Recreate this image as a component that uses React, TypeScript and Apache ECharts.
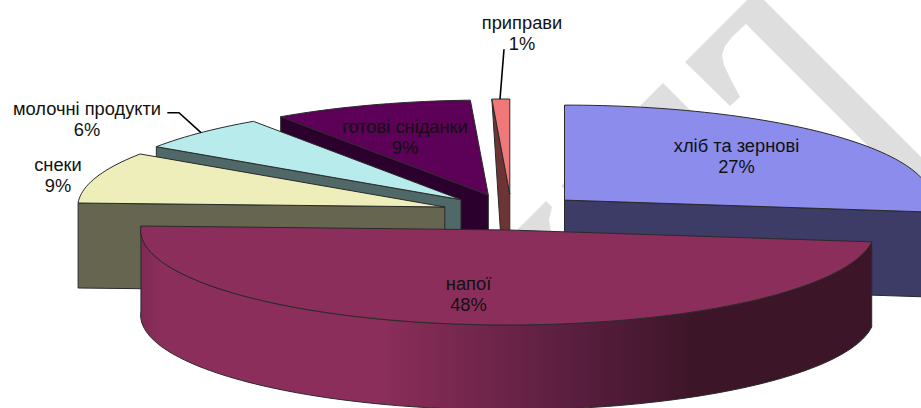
import React, { useEffect, useRef } from "react";
import * as echarts from "echarts";

// Share of each product group, in percent, clockwise from twelve o'clock.
const categories = ["хліб та зернові", "напої", "снеки", "молочні продукти", "готові сніданки", "приправи"];
const shares = [27, 48, 9, 6, 9, 1];

// Surface colours per slice.
const topColors = ["#8c8cec", "#8c2e5c", "#eeeebb", "#b8ecec", "#5c0058", "#f07878"];
const wallColors = ["#3c3c66", "#8c2e5c", "#666650", "#506868", "#2c002c", "#6c3434"];

// Back-to-front painting order of the exploded slices.
const paintOrder = [5, 4, 3, 2, 0, 1];

// Label text centres, one per category.
const labelCentres: [number, number][] = [
  [736.5, 156.3],
  [468.5, 294.3],
  [58, 175.3],
  [87, 118.5],
  [405, 137.3],
  [522, 33],
];

// Leader lines for the labels that sit outside their slices.
const leaders: [number, number][][] = [
  [[167.3, 112.7], [179, 112.7], [201, 132.7]],
  [[504, 49.3], [500, 99]],
];

// Diagonal grey background lettering.
const backdropShapes: [number, number][][] = [
  [
    [747, 0], [764, 0], [921, 157], [921, 215], [867, 215], [867, 145], [746, 24],
    [733, 36], [725, 46], [722, 55], [724, 65], [730, 78], [740, 97], [730, 106], [685, 62],
  ],
  [[663, 83], [705, 125], [610, 136]],
  [[546, 201], [552, 207], [549, 220], [551, 232], [515, 232]],
  [[561, 186], [564, 183], [566, 190]],
];

const BASE_X = 512;
const BASE_Y = 212;
const EXPLODE_X = 70;
const EXPLODE_Y = 18;
const RADIUS_X = 367;
const RADIUS_Y = 95;
const DEPTH = 85;

// Perspective correction: how far the camera turns the rim at a given pie angle.
const warpAngles = [180, 270, 302.4, 324, 356.4, 360];
const warpShifts = [0, 2.4, 1.5, 1.55, 0.8, 0];

function viewAngle(deg: number) {
  for (let k = 1; k < warpAngles.length; k++) {
    if (deg <= warpAngles[k] && deg >= warpAngles[k - 1]) {
      const t = (deg - warpAngles[k - 1]) / (warpAngles[k] - warpAngles[k - 1]);
      return deg + warpShifts[k - 1] + (warpShifts[k] - warpShifts[k - 1]) * t;
    }
  }
  return deg;
}

const rad = (deg: number) => (deg * Math.PI) / 180;

const total = shares.reduce((a, b) => a + b, 0);
const spans = shares.map((value, i) => {
  const before = shares.slice(0, i).reduce((a, b) => a + b, 0);
  return [(before / total) * 360, ((before + value) / total) * 360];
});

function centreOf(i: number): [number, number] {
  const mid = rad((spans[i][0] + spans[i][1]) / 2);
  return [BASE_X + EXPLODE_X * Math.sin(mid), BASE_Y - EXPLODE_Y * Math.cos(mid)];
}

function rimPoint(i: number, deg: number, drop = 0): [number, number] {
  const [cx, cy] = centreOf(i);
  const a = rad(viewAngle(deg));
  return [cx + RADIUS_X * Math.sin(a), cy - RADIUS_Y * Math.cos(a) + drop];
}

function arcPoints(i: number, from: number, to: number, drop = 0) {
  const steps = Math.max(2, Math.ceil(Math.abs(to - from) / 1.5));
  const pts: [number, number][] = [];
  for (let s = 0; s <= steps; s++) pts.push(rimPoint(i, from + ((to - from) * s) / steps, drop));
  return pts;
}

const OUTLINE = "#2a2a2a";

function polygon(points: [number, number][], fill: any, lineWidth = 1) {
  return {
    type: "polygon",
    shape: { points },
    style: { fill, stroke: OUTLINE, lineWidth, lineJoin: "round" },
  };
}

// The narrow last slice has its cut face narrowing towards the hub at the foot.
const wallFootPull = (i: number) => (shares[i] < 2 ? 0.65 : 0);

function cutWall(i: number, deg: number) {
  const [cx, cy] = centreOf(i);
  const outer = rimPoint(i, deg);
  const pull = wallFootPull(i);
  const foot: [number, number] = pull
    ? [outer[0] + (cx - outer[0]) * pull, cy + DEPTH]
    : [outer[0], outer[1] + DEPTH];
  return polygon([[cx, cy], outer, foot, [cx, cy + DEPTH]], wallColors[i]);
}

function rimFill(i: number) {
  if (shares[i] < 40) return wallColors[i];
  // The large slice darkens from left to right along its curved wall.
  return new echarts.graphic.LinearGradient(0, 0, 1, 0, [
    { offset: 0, color: "#7e2a54" },
    { offset: 0.03, color: "#8c2e5c" },
    { offset: 0.32, color: "#8c2e5c" },
    { offset: 0.42, color: "#7a284f" },
    { offset: 0.58, color: "#5c1f40" },
    { offset: 0.76, color: "#3c1528" },
    { offset: 1, color: "#3c1528" },
  ]);
}

function renderSlice(_params: any, api: any) {
  const i = api.value(0) as number;
  const [a0, a1] = spans[i];
  const [cx, cy] = centreOf(i);
  const children: any[] = [];

  if (Math.sin(rad(a0)) < -1e-6) children.push(cutWall(i, a0));
  if (Math.sin(rad(a1)) > 1e-6) children.push(cutWall(i, a1));

  const from = Math.max(a0, 90);
  const to = Math.min(a1, 270);
  if (to > from) {
    const top = arcPoints(i, from, to);
    const bottom = arcPoints(i, to, from, DEPTH);
    children.push(polygon([...top, ...bottom], rimFill(i)));
  }

  children.push(polygon([[cx, cy], ...arcPoints(i, a0, a1)], topColors[i]));
  return { type: "group", children };
}

function renderLabel(_params: any, api: any) {
  const i = api.value(0) as number;
  const [x, y] = labelCentres[i];
  return {
    type: "text",
    x,
    y,
    style: {
      text: `${categories[i]}\n${shares[i]}%`,
      align: "center",
      verticalAlign: "middle",
      fill: "#111111",
      font: '18.3px "Liberation Sans", Arial, sans-serif',
      lineHeight: 21,
    },
  };
}

function renderLeader(_params: any, api: any) {
  const i = api.value(0) as number;
  return {
    type: "polyline",
    shape: { points: leaders[i] },
    style: { fill: "none", stroke: "#000000", lineWidth: 1.6 },
  };
}

export default function App() {
  const ref = useRef<HTMLDivElement>(null);

  useEffect(() => {
    document.body.style.margin = "0";
    const chart = echarts.init(ref.current!, undefined, { renderer: "svg" });
    chart.setOption({
      animation: false,
      backgroundColor: "#ffffff",
      graphic: {
        elements: backdropShapes.map((points) => ({
          type: "polygon",
          z: 0,
          silent: true,
          shape: { points },
          style: { fill: "#dedede" },
        })),
      },
      series: [
        {
          type: "custom",
          coordinateSystem: "none",
          silent: true,
          z: 2,
          renderItem: renderSlice,
          data: paintOrder.map((i) => [i]),
        },
        {
          type: "custom",
          coordinateSystem: "none",
          silent: true,
          z: 3,
          renderItem: renderLeader,
          data: leaders.map((_, i) => [i]),
        },
        {
          type: "custom",
          coordinateSystem: "none",
          silent: true,
          z: 4,
          renderItem: renderLabel,
          data: categories.map((_, i) => [i]),
        },
      ],
    });
    return () => chart.dispose();
  }, []);

  return <div ref={ref} style={{ width: 921, height: 408, overflow: "hidden" }} />;
}
